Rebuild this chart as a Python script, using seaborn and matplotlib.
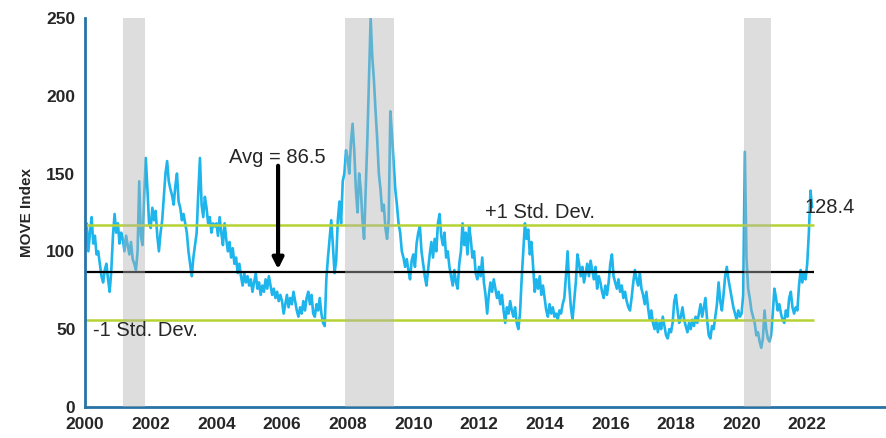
"""
MOVE Index 2000-2022 avec moyenne, +/-1 ecart-type et recessions
"""

import numpy as np
import pandas as pd
import matplotlib
matplotlib.use("Agg")
import matplotlib.pyplot as plt
import seaborn as sns

# ----------------------------------------------------------
# 1) Donnees (un point tous les ~18 jours)
# ----------------------------------------------------------
start_year = 2000.0
step_year = 0.05

move_2000 = [104, 118, 100, 112, 122, 105, 110, 98, 100, 92, 84, 80, 88, 92, 82, 74, 88, 110, 124, 112]
move_2001 = [118, 105, 112, 108, 100, 110, 104, 98, 106, 95, 92, 88, 100, 145, 110, 104, 135, 160, 140, 118]
move_2002 = [115, 128, 120, 126, 110, 100, 112, 120, 135, 150, 158, 145, 140, 136, 130, 142, 150, 132, 128, 120]
move_2003 = [124, 118, 112, 100, 92, 84, 96, 104, 112, 138, 160, 130, 122, 135, 128, 118, 122, 112, 118, 116]
move_2004 = [118, 110, 122, 112, 104, 118, 108, 100, 106, 96, 102, 92, 96, 86, 92, 84, 78, 86, 80, 84]
move_2005 = [78, 82, 74, 80, 86, 76, 80, 72, 78, 74, 82, 76, 84, 78, 72, 76, 70, 74, 68, 72]
move_2006 = [68, 60, 66, 72, 64, 70, 66, 74, 68, 62, 58, 64, 60, 68, 62, 70, 74, 66, 72, 60]
move_2007 = [58, 66, 62, 70, 60, 54, 52, 82, 96, 108, 120, 104, 86, 94, 120, 132, 118, 145, 150, 165]
move_2008 = [160, 150, 170, 182, 165, 140, 125, 150, 140, 120, 108, 140, 172, 210, 250, 225, 210, 190, 172, 150]
move_2009 = [140, 126, 130, 115, 108, 120, 190, 175, 158, 140, 130, 118, 112, 100, 96, 90, 95, 88, 82, 94]
move_2010 = [98, 90, 105, 112, 116, 100, 92, 84, 78, 88, 98, 106, 96, 108, 100, 118, 124, 110, 104, 112]
move_2011 = [96, 100, 90, 84, 78, 88, 80, 76, 92, 100, 118, 104, 112, 98, 116, 108, 96, 100, 86, 82]
move_2012 = [90, 84, 96, 80, 72, 60, 72, 80, 74, 82, 76, 70, 74, 66, 72, 62, 54, 64, 60, 68]
move_2013 = [62, 58, 64, 54, 50, 60, 82, 100, 118, 108, 114, 98, 106, 90, 74, 82, 76, 84, 72, 78]
move_2014 = [70, 62, 58, 66, 60, 64, 58, 60, 56, 62, 60, 66, 70, 84, 100, 78, 64, 56, 68, 80]
move_2015 = [98, 92, 84, 90, 80, 86, 92, 84, 94, 88, 82, 90, 76, 84, 80, 74, 70, 78, 72, 80]
move_2016 = [92, 98, 84, 80, 76, 82, 74, 78, 70, 74, 68, 64, 62, 70, 80, 88, 82, 78, 86, 76]
move_2017 = [72, 66, 74, 64, 56, 62, 54, 50, 56, 48, 54, 50, 58, 52, 46, 44, 50, 48, 54, 68]
move_2018 = [72, 62, 54, 58, 64, 56, 52, 48, 54, 50, 56, 52, 58, 54, 60, 66, 58, 64, 70, 56]
move_2019 = [46, 44, 52, 50, 58, 66, 80, 68, 62, 72, 84, 90, 82, 76, 70, 64, 60, 56, 62, 58]
move_2020 = [60, 72, 164, 96, 76, 70, 62, 58, 54, 46, 48, 42, 38, 44, 62, 50, 44, 42, 46, 60]
move_2021 = [76, 70, 62, 66, 60, 56, 54, 62, 58, 70, 74, 64, 60, 64, 62, 78, 88, 80, 86, 82]
move_2022 = [92, 112, 139, 128.4]

move_values = (move_2000 + move_2001 + move_2002 + move_2003 + move_2004 + move_2005
               + move_2006 + move_2007 + move_2008 + move_2009 + move_2010 + move_2011
               + move_2012 + move_2013 + move_2014 + move_2015 + move_2016 + move_2017
               + move_2018 + move_2019 + move_2020 + move_2021 + move_2022)

avg_move = 86.5
std_move = 30.5
last_value = 128.4

# recessions (annees decimales)
recessions = [(2001.17, 2001.83), (2007.92, 2009.42), (2020.08, 2020.90)]

x_ticks = list(range(2000, 2023, 2))
y_ticks = [0, 50, 100, 150, 200, 250]

df = pd.DataFrame({
    "annee": start_year + step_year * np.arange(len(move_values)),
    "move": move_values,
})
end_year = df["annee"].iloc[-1] + 0.05

# ----------------------------------------------------------
# 2) Style
# ----------------------------------------------------------
sns.set_style("white")
plt.rcParams["font.family"] = ["Liberation Sans", "DejaVu Sans"]

fig = plt.figure(figsize=(8.86, 4.38), dpi=100)
ax = fig.add_axes([0.096, 0.071, 0.904, 0.888])

# ----------------------------------------------------------
# 3) Trace
# ----------------------------------------------------------
sns.lineplot(data=df, x="annee", y="move", color="#1EB4EC", linewidth=1.9, ax=ax, zorder=2)

ax.hlines(avg_move, start_year, end_year, color="black", linewidth=1.6, zorder=2)
ax.hlines([avg_move + std_move, avg_move - std_move], start_year, end_year,
          color="#B5D334", linewidth=1.8, zorder=2)

for r0, r1 in recessions:
    ax.axvspan(r0, r1, color="#B2B2B2", alpha=0.44, linewidth=0, zorder=3)

ax.annotate("", xy=(2005.88, 88.5), xytext=(2005.88, 155),
            arrowprops=dict(arrowstyle="-|>", color="black", lw=3, mutation_scale=16,
                            shrinkA=0, shrinkB=0))
ax.text(2004.38, 160, "Avg = 86.5", fontsize=14.5, ha="left", va="center")
ax.text(2012.17, 125, "+1 Std. Dev.", fontsize=14.5, ha="left", va="center")
ax.text(2000.25, 49, "-1 Std. Dev.", fontsize=14.5, ha="left", va="center")
ax.text(2021.93, 128, f"{last_value}", fontsize=14.5, ha="left", va="center")

ax.set_xlim(2000, 2024.4)
ax.set_ylim(0, 250)
ax.set_xticks(x_ticks)
ax.set_xticklabels([str(t) for t in x_ticks], fontsize=12.5, fontweight="bold")
ax.set_yticks(y_ticks)
ax.set_yticklabels([str(t) for t in y_ticks], fontsize=12.5, fontweight="bold")
ax.tick_params(length=0, pad=7)
ax.set_xlabel("")
ax.set_ylabel("MOVE Index", fontsize=11, fontweight="bold", labelpad=9)

sns.despine(ax=ax)
for s in ["left", "bottom"]:
    ax.spines[s].set_color("#2873A6")
    ax.spines[s].set_linewidth(2)

fig.savefig("out.png", dpi=100)
plt.close(fig)
